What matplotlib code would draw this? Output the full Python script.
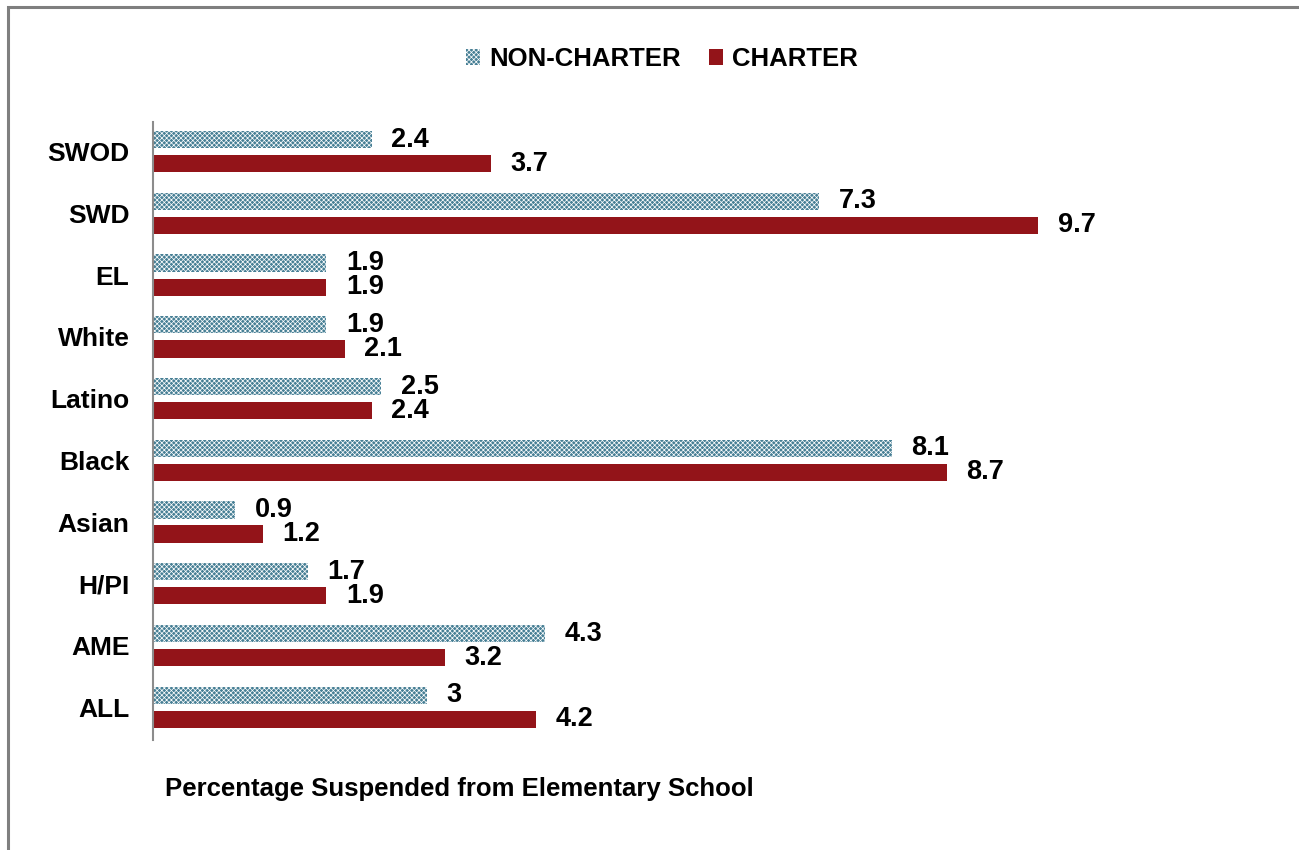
import matplotlib.pyplot as plt
import numpy as np
from matplotlib.patches import Rectangle, Patch

plt.rcParams["font.family"] = ["Liberation Sans", "DejaVu Sans"]
plt.rcParams["font.weight"] = "bold"
plt.rcParams["hatch.linewidth"] = 0.5
plt.rcParams["hatch.color"] = "#c4d8e0"

categories = ["SWOD", "SWD", "EL", "White", "Latino", "Black", "Asian", "H/PI", "AME", "ALL"]
non_charter = [2.4, 7.3, 1.9, 1.9, 2.5, 8.1, 0.9, 1.7, 4.3, 3.0]
charter = [3.7, 9.7, 1.9, 2.1, 2.4, 8.7, 1.2, 1.9, 3.2, 4.2]
non_charter_labels = ["2.4", "7.3", "1.9", "1.9", "2.5", "8.1", "0.9", "1.7", "4.3", "3"]
charter_labels = ["3.7", "9.7", "1.9", "2.1", "2.4", "8.7", "1.2", "1.9", "3.2", "4.2"]

teal = "#477f95"
red = "#931419"

fig = plt.figure(figsize=(12.99, 8.5), dpi=100)
fig.set_facecolor("white")

# outer frame (only top and left visible in the crop)
fig.patches.append(Rectangle((8 / 1299, -0.1), 1.2, 1 - 7 / 850 + 0.1, transform=fig.transFigure,
                             fill=False, edgecolor="#7f7f7f", linewidth=2.2))

ax = fig.add_axes([153 / 1299, 1 - 740 / 850, 1095 / 1299, 618 / 850])

y = np.arange(len(categories))
h = 0.28
off = 0.195
b1 = ax.barh(y - off, non_charter, height=h, color=teal, edgecolor="white", linewidth=0, hatch="xxxxxxx")
b2 = ax.barh(y + off, charter, height=h, color=red, linewidth=0)

for bars, labels in [(b1, non_charter_labels), (b2, charter_labels)]:
    for bar, lab in zip(bars, labels):
        ax.annotate(lab, (bar.get_width(), bar.get_y() + bar.get_height() / 2), xytext=(14, 0),
                    textcoords="offset points", va="center", ha="left", fontsize=19.5, fontweight="bold")

ax.set_xlim(0, 12)
ax.set_ylim(9.53, -0.48)
ax.set_yticks(y)
ax.set_yticklabels(categories, fontsize=19, fontweight="bold")
ax.tick_params(axis="y", length=0, pad=17)
ax.set_xticks([])
for s in ["top", "right", "bottom"]:
    ax.spines[s].set_visible(False)
ax.spines["left"].set_color("#8c8c8c")
ax.spines["left"].set_linewidth(1.5)

fig.text(165 / 1299, 1 - 789 / 850, "Percentage Suspended from Elementary School",
         fontsize=18.5, fontweight="bold", va="center", ha="left")

handles = [Patch(facecolor=teal, edgecolor="white", linewidth=0, hatch="xxxxxxx", label="NON-CHARTER"),
           Patch(facecolor=red, linewidth=0, label="CHARTER")]
fig.legend(handles=handles, loc="center", bbox_to_anchor=(662 / 1299, 1 - 59 / 850), ncol=2,
           frameon=False, handlelength=0.55, handleheight=0.55, handletextpad=0.35,
           columnspacing=1.1, prop={"weight": "bold", "size": 18.5})

fig.savefig("out.png", dpi=100)
